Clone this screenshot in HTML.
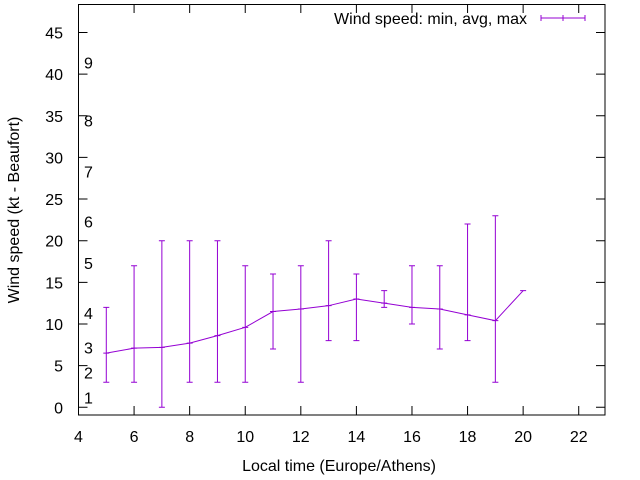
<!DOCTYPE html>
<html><head><meta charset="utf-8"><style>body{margin:0;background:#fff}svg{display:block;font-family:"Liberation Sans",sans-serif}</style></head>
<body>
<svg id="c" width="640" height="480" viewBox="0 0 640 480">
<rect x="78.5" y="4.5" width="526.5" height="410.5" fill="none" stroke="#000"/>
<g id="ticks"></g>
<g id="marks"></g>
<text x="19" y="210" transform="rotate(-90 19 210)" text-anchor="middle" font-size="16">Wind speed (kt - Beaufort)</text>
<text x="339" y="471" text-anchor="middle" font-size="16">Local time (Europe/Athens)</text>
<g>
<text x="527" y="24" text-anchor="end" font-size="16">Wind speed: min, avg, max</text>
<path d="M541 18H585M541 15V21M563 15V21M585 15V21" stroke="#9400d3" fill="none"/>
</g>
</svg>
<script>
const hours=[5,6,7,8,9,10,11,12,13,14,15,16,17,18,19,20];
const avgVals=[6.5,7.1,7.2,7.7,8.6,9.6,11.5,11.8,12.2,13,12.5,12,11.8,11.1,10.4,14];
const minVals=[3,3,0,3,3,3,7,3,8,8,12,10,7,8,3,14];
const maxVals=[12,17,20,20,20,17,16,17,20,16,14,17,17,22,23,14];
const xTicks=[4,6,8,10,12,14,16,18,20,22];
const yTicks=[0,5,10,15,20,25,30,35,40,45];
const beaufortLabels=["1","2","3","4","5","6","7","8","9"];
const beaufortAt=[1.2,4.2,7.2,11.3,17.3,22.3,28.3,34.4,41.4];
const NS="http://www.w3.org/2000/svg";
const X=v=>78.5+(v-4)*27.79, Y=v=>407.3-v*8.33;
const tg=document.getElementById('ticks'), mg=document.getElementById('marks');
function mk(tag,attrs,parent){const e=document.createElementNS(NS,tag);for(const k in attrs)e.setAttribute(k,attrs[k]);parent.appendChild(e);return e;}
xTicks.forEach(t=>{const x=X(t);
 const p=mk('path',{d:`M${x} 415V406M${x} 4.5V13`,stroke:'#000'},tg);
 
 
 const l=mk('text',{x:x,y:442,'text-anchor':'middle','font-size':16},tg);l.textContent=t;
 
 });
yTicks.forEach(t=>{const y=Y(t);
 const p=mk('path',{d:`M78.5 ${y}H87.5M605 ${y}H596`,stroke:'#000'},tg);
 
 
 const l=mk('text',{x:63,y:y+6,'text-anchor':'end','font-size':16},tg);l.textContent=t;
 
 });
beaufortLabels.forEach((b,i)=>{const l=mk('text',{x:84,y:Y(beaufortAt[i])+6,'font-size':16},tg);l.textContent=b;
 
 });
hours.forEach((h,i)=>{const x=X(h);
 const e=mk('path',{d:`M${x} ${Y(minVals[i])}V${Y(maxVals[i])}M${x-3} ${Y(minVals[i])}H${x+3}M${x-3} ${Y(maxVals[i])}H${x+3}M${x-3} ${Y(avgVals[i])}H${x+3}`,stroke:'#9400d3',fill:'none'},mg);
 
 });
const line=mk('polyline',{points:hours.map((h,i)=>X(h)+','+Y(avgVals[i])).join(' '),stroke:'#9400d3',fill:'none'},mg);


</script>
</body></html>
